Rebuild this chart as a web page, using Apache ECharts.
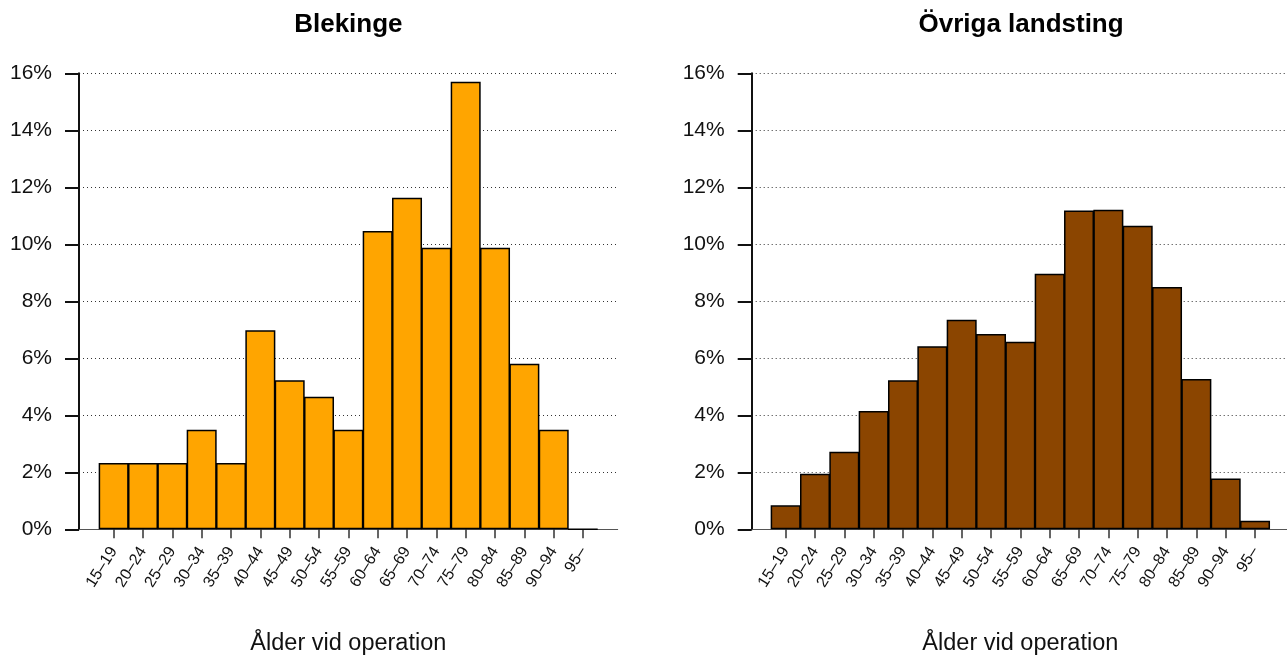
<!DOCTYPE html>
<html>
<head>
<meta charset="utf-8">
<script src="https://cdn.jsdelivr.net/npm/echarts@6/dist/echarts.min.js"></script>
<style>
html,body{margin:0;padding:0;background:#fff;}
#chart{width:1287px;height:659px;}
</style>
</head>
<body>
<div id="chart"></div>
<script>
const categories = ['15\u201319','20\u201324','25\u201329','30\u201334','35\u201339','40\u201344','45\u201349','50\u201354','55\u201359','60\u201364','65\u201369','70\u201374','75\u201379','80\u201384','85\u201389','90\u201394','95\u2013'];
const blekinge = [2.33,2.33,2.33,3.49,2.33,6.98,5.23,4.65,3.49,10.47,11.63,9.88,15.70,9.88,5.81,3.49,0];
const ovriga = [0.84,1.95,2.72,4.15,5.23,6.42,7.35,6.85,6.58,8.97,11.19,11.21,10.65,8.50,5.27,1.78,0.30];
const panelTitles = ['Blekinge','\u00d6vriga landsting'];
const xTitle = '\u00c5lder vid operation';
const yTicks = {min:0, max:16, interval:2};

const FONT = '"Liberation Sans", Arial, Helvetica, sans-serif';
const TOP = 73.3, HEIGHT = 456;
const panels = [
  {frameLeft:79, barLeft:99, color:'#FFA500', data:blekinge},
  {frameLeft:751.7, barLeft:771, color:'#8B4500', data:ovriga}
];
const FRAME_W = 538.7, BAR_W = 498.7;

const grid = [], xAxis = [], yAxis = [], series = [], title = [];
panels.forEach((p, i) => {
  const gFrame = grid.length;
  grid.push({left:p.frameLeft, top:TOP, width:FRAME_W, height:HEIGHT, outerBoundsMode:'none', containLabel:false});
  const gBar = grid.length;
  grid.push({left:p.barLeft, top:TOP, width:BAR_W, height:HEIGHT, outerBoundsMode:'none', containLabel:false});

  xAxis.push({
    gridIndex:gFrame, type:'value', min:0, max:1, position:'bottom',
    axisLine:{show:true, onZero:false, lineStyle:{color:'#555', width:1}},
    axisTick:{show:false}, axisLabel:{show:false}, splitLine:{show:false}
  });
  yAxis.push({
    gridIndex:gFrame, type:'value', min:yTicks.min, max:yTicks.max, interval:yTicks.interval,
    axisLine:{show:true, lineStyle:{color:'#111', width:2}},
    axisTick:{show:true, length:14, lineStyle:{color:'#111', width:2}},
    axisLabel:{formatter:'{value}%', fontFamily:FONT, fontSize:21, color:'#111', margin:27, padding:[7,0,0,0]},
    splitLine:{show:true, showMinLine:false, lineStyle:{color:'#333', width:1, type:[1,3]}}
  });

  const xi = xAxis.length;
  xAxis.push({
    gridIndex:gBar, type:'category', data:categories, boundaryGap:true,
    axisLine:{show:false},
    axisTick:{show:true, alignWithLabel:true, length:9, lineStyle:{color:'#333', width:1.5}},
    axisLabel:{rotate:58, interval:0, fontFamily:FONT, fontSize:16, color:'#111', margin:19},
    name:xTitle, nameLocation:'middle', nameGap:102,
    nameTextStyle:{fontFamily:FONT, fontSize:23.5, color:'#111'}
  });
  const yi = yAxis.length;
  yAxis.push({gridIndex:gBar, type:'value', min:yTicks.min, max:yTicks.max, show:false});

  series.push({
    type:'bar', xAxisIndex:xi, yAxisIndex:yi, data:p.data,
    barCategoryGap:'0%', barWidth:30,
    itemStyle:{color:p.color, borderColor:'#000', borderWidth:1.5},
    silent:true
  });

  title.push({
    text:panelTitles[i], left:p.frameLeft + FRAME_W/2, top:12, textAlign:'center', padding:0,
    textStyle:{fontFamily:FONT, fontSize:26, fontWeight:'bold', color:'#000'}
  });
});

const chart = echarts.init(document.getElementById('chart'), null, {renderer:'canvas'});
chart.setOption({animation:false, backgroundColor:'#fff', title, grid, xAxis, yAxis, series});
</script>
</body>
</html>
